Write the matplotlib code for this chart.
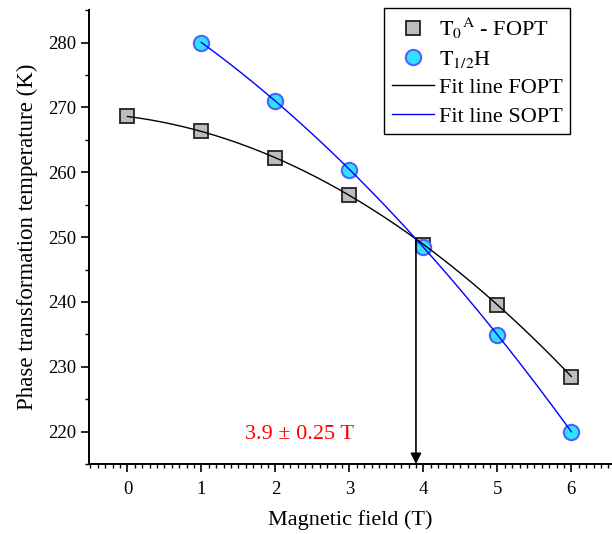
import numpy as np
import matplotlib
matplotlib.use('Agg')
import matplotlib.pyplot as plt
from matplotlib.ticker import MultipleLocator

plt.rcParams['font.family'] = ['Liberation Serif', 'DejaVu Serif']
plt.rcParams['mathtext.fontset'] = 'stix'

field_fopt = [0, 1, 2, 3, 4, 5, 6]
temp_fopt = [268.6, 266.3, 262.2, 256.5, 248.8, 239.6, 228.5]
field_sopt = [1, 2, 3, 4, 5, 6]
temp_sopt = [280.0, 271.0, 260.4, 248.5, 234.9, 220.0]
cross_field = 3.9
cross_label = '3.9 ± 0.25 T'

fig = plt.figure(figsize=(6.12, 5.34), dpi=100)
ax = fig.add_axes([0.1454, 0.131, 0.8546, 0.85])

# quadratic fits through the data
p1 = np.polyfit(field_fopt, temp_fopt, 2)
p2 = np.polyfit(field_sopt, temp_sopt, 2)
xf1 = np.linspace(min(field_fopt), max(field_fopt), 200)
xf2 = np.linspace(min(field_sopt), max(field_sopt), 200)

ax.plot(field_fopt, temp_fopt, 's', ms=10, mfc='#bdbdbd', mec='#222222', mew=1.3,
        ls='none', label=r'$\mathrm{T_0}^{\mathrm{A}}$ - FOPT', zorder=2)
ax.plot(field_sopt, temp_sopt, 'o', ms=11, mfc='#33e0ff', mec='#4466ff', mew=1.5,
        ls='none', label=r'$\mathrm{T_{1/2}}$H', zorder=2)
ax.plot(xf1, np.polyval(p1, xf1), color='black', lw=1, label='Fit line FOPT', zorder=3)
ax.plot(xf2, np.polyval(p2, xf2), color='blue', lw=1, label='Fit line SOPT', zorder=3)

y_cross = np.polyval(p1, cross_field)
ax.annotate('', xy=(cross_field, 215), xytext=(cross_field, y_cross),
            arrowprops=dict(arrowstyle='-|>', color='black', lw=1.2,
                            mutation_scale=16, shrinkA=0, shrinkB=0))
ax.text(2.32, 219.5, cross_label, color='red', fontsize=16, ha='center', va='center')

ax.set_xlim(-0.52, 6.55)
ax.set_ylim(215, 285)
ax.xaxis.set_major_locator(MultipleLocator(1))
ax.xaxis.set_minor_locator(MultipleLocator(0.1))
ax.yaxis.set_major_locator(MultipleLocator(10))
ax.yaxis.set_minor_locator(MultipleLocator(5))
ax.tick_params(which='major', direction='out', length=6, width=1.2, labelsize=13.5)
ax.tick_params(axis='x', which='major', pad=6)
ax.tick_params(which='minor', direction='out', length=3, width=1.0)
for s in ['top', 'right']:
    ax.spines[s].set_visible(False)
for s in ['left', 'bottom']:
    ax.spines[s].set_linewidth(1.4)

ax.set_xlabel('Magnetic field (T)', fontsize=16, labelpad=9)
ax.set_ylabel('Phase transformation temperature (K)', fontsize=16.5, labelpad=7)

leg = ax.legend(loc='upper right', bbox_to_anchor=(0.92, 1.005), fontsize=16,
                fancybox=False, edgecolor='black', framealpha=1,
                handlelength=1.9, borderpad=0.35, labelspacing=0.35, handletextpad=0.2,
                borderaxespad=0)
leg.get_frame().set_linewidth(1.0)

fig.savefig('out.png', dpi=100)
